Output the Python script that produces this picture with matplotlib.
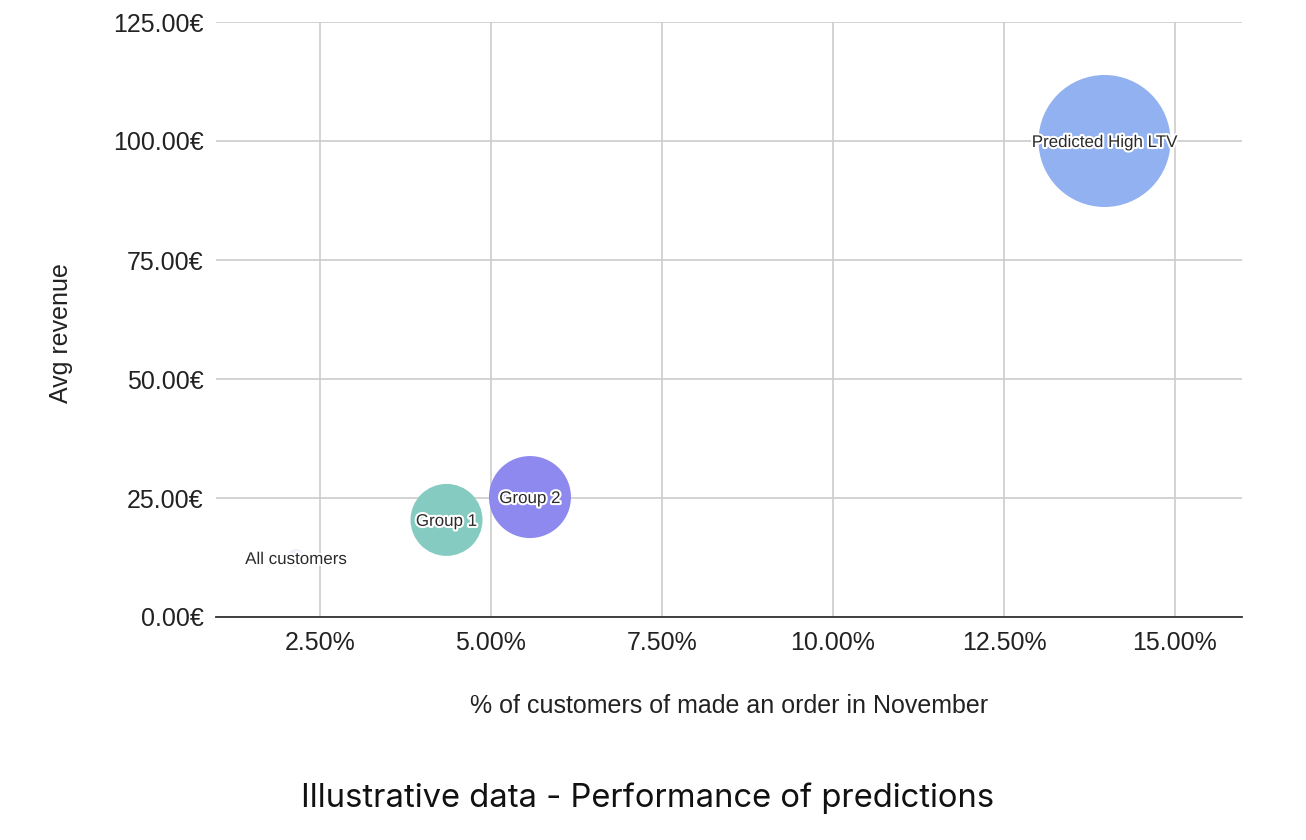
import matplotlib.pyplot as plt
import matplotlib.patheffects as pe
from matplotlib.ticker import FuncFormatter

# data
segments = ["All customers", "Group 1", "Group 2", "Predicted High LTV"]
pct_ordered = [2.15, 4.35, 5.57, 13.97]   # % of customers who ordered in November
avg_revenue = [12.4, 20.4, 25.2, 100.0]   # EUR
segment_size = [9, 36, 41, 66]            # relative bubble size
colors = ["#f1effc", "#86cbc1", "#8d89ee", "#92b1f0"]

x_ticks = [2.5, 5.0, 7.5, 10.0, 12.5, 15.0]
y_ticks = [0, 25, 50, 75, 100, 125]

DPI = 100
fig = plt.figure(figsize=(13.06, 8.4), dpi=DPI)
ax = fig.add_axes([216 / 1306, 1 - 617 / 840, (1242 - 216) / 1306, (617 - 22) / 840])

# bubble radius in pixels -> marker area in points^2
s = [(2 * r * 72 / DPI) ** 2 for r in segment_size]
ax.scatter(pct_ordered, avg_revenue, s=s, c=colors, linewidths=0, zorder=3)

halo = [pe.withStroke(linewidth=3, foreground="white")]
for name, x, y in zip(segments, pct_ordered, avg_revenue):
    ax.text(x, y, name, ha="center", va="center_baseline", fontsize=12.2,
            family="Liberation Sans", color="#2a2a2a", path_effects=halo, zorder=4)

ax.set_xlim(0.98, 15.98)
ax.set_ylim(0, 125)
ax.set_xticks(x_ticks)
ax.set_yticks(y_ticks)
ax.xaxis.set_major_formatter(FuncFormatter(lambda v, p: f"{v:.2f}%"))
ax.yaxis.set_major_formatter(FuncFormatter(lambda v, p: f"{v:.2f}€"))

ax.grid(True, color="#cccccc", linewidth=1.2, zorder=0)
ax.set_axisbelow(True)
for side in ["top", "right", "left"]:
    ax.spines[side].set_visible(False)
ax.spines["bottom"].set_color("#333333")
ax.spines["bottom"].set_linewidth(1.3)
ax.tick_params(length=0, labelsize=18, labelcolor="#222222")
ax.tick_params(axis="x", pad=10)
ax.tick_params(axis="y", pad=9)
for lbl in ax.get_xticklabels() + ax.get_yticklabels():
    lbl.set_family("Liberation Sans")

fig.text(729 / 1306, 1 - 706 / 840, "% of customers of made an order in November",
         ha="center", va="center", fontsize=18, family="Liberation Sans", color="#222222")
fig.text(61 / 1306, 1 - 333 / 840, "Avg revenue", ha="center", va="center",
         rotation=90, fontsize=18, family="Liberation Sans", color="#222222")

fig.text(648 / 1306, 1 - 798 / 840, "Illustrative data - Performance of predictions",
         ha="center", va="center", fontsize=23.6, family="Inter", color="#111111")

fig.savefig("out.png", dpi=DPI)
